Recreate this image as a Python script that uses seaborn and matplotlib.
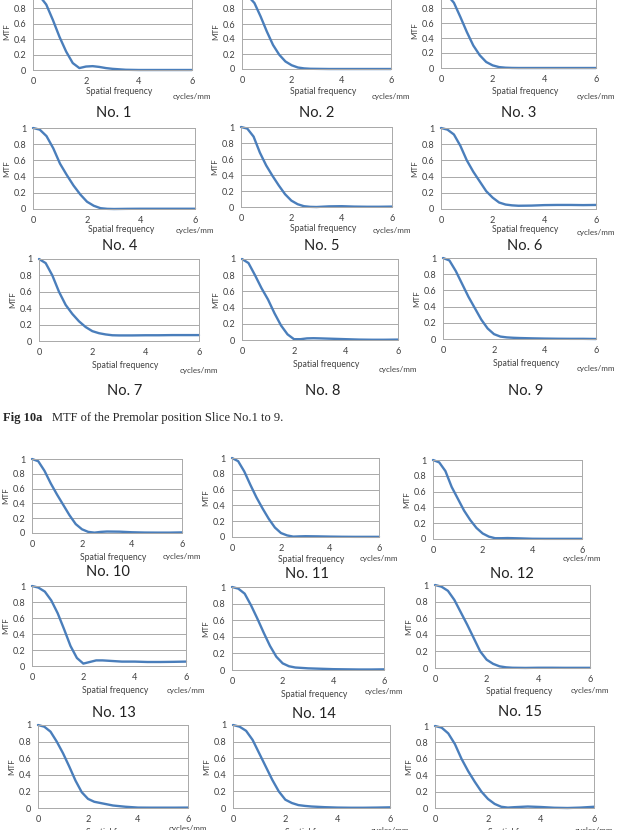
import matplotlib
matplotlib.use('Agg')
import matplotlib.pyplot as plt
import seaborn as sns
import numpy as np
from matplotlib.ticker import FuncFormatter

"""
MTF curves read off the figure (Premolar slices No.1 - No.18)
"""
freq = [0, 0.25, 0.5, 0.75, 1.0, 1.25, 1.5, 1.75, 2.0, 2.25, 2.5, 2.75,
        3.0, 3.5, 4.0, 4.5, 5.0, 5.5, 6.0]

mtf_01 = [1, 0.96, 0.85, 0.65, 0.43, 0.24, 0.09, 0.025, 0.045, 0.05, 0.04,
          0.025, 0.015, 0.003, 0, 0, 0, 0, 0]
mtf_02 = [1, 0.97, 0.88, 0.70, 0.50, 0.32, 0.19, 0.10, 0.05, 0.02, 0.008,
          0.003, 0.002, 0, 0, 0, 0, 0, 0]
mtf_03 = [1, 0.97, 0.87, 0.68, 0.48, 0.30, 0.17, 0.08, 0.035, 0.012, 0.004,
          0.001, 0, 0, 0, 0, 0, 0, 0]
mtf_04 = [1, 0.98, 0.90, 0.75, 0.56, 0.42, 0.29, 0.18, 0.09, 0.04, 0.01,
          0.002, 0, 0.002, 0.003, 0.003, 0.003, 0.003, 0.003]
mtf_05 = [1, 0.98, 0.88, 0.68, 0.52, 0.39, 0.27, 0.16, 0.08, 0.035, 0.01,
          0.002, 0, 0.008, 0.01, 0.005, 0.003, 0.003, 0.005]
mtf_06 = [1, 0.98, 0.92, 0.78, 0.60, 0.46, 0.34, 0.22, 0.14, 0.08, 0.055,
          0.045, 0.04, 0.042, 0.048, 0.05, 0.05, 0.048, 0.05]
mtf_07 = [1, 0.95, 0.80, 0.60, 0.44, 0.33, 0.24, 0.17, 0.12, 0.095, 0.08,
          0.07, 0.068, 0.068, 0.07, 0.07, 0.072, 0.072, 0.072]
mtf_08 = [1, 0.95, 0.80, 0.64, 0.50, 0.33, 0.18, 0.07, 0.01, 0.01, 0.02,
          0.022, 0.02, 0.015, 0.01, 0.005, 0.003, 0.003, 0.005]
mtf_09 = [1, 0.97, 0.84, 0.68, 0.52, 0.38, 0.24, 0.13, 0.06, 0.03, 0.02,
          0.015, 0.012, 0.008, 0.005, 0.003, 0.002, 0.002, 0]
mtf_10 = [1, 0.97, 0.84, 0.67, 0.52, 0.38, 0.24, 0.12, 0.05, 0.015, 0.005,
          0.015, 0.02, 0.018, 0.01, 0.006, 0.005, 0.005, 0.008]
mtf_11 = [1, 0.96, 0.83, 0.66, 0.50, 0.36, 0.23, 0.12, 0.05, 0.02, 0.005,
          0.008, 0.01, 0.008, 0.005, 0.003, 0.002, 0.002, 0.002]
mtf_12 = [1, 0.97, 0.86, 0.66, 0.51, 0.36, 0.24, 0.14, 0.07, 0.03, 0.01,
          0.01, 0.012, 0.008, 0.003, 0.002, 0.002, 0.002, 0.002]
mtf_13 = [1, 0.98, 0.93, 0.82, 0.66, 0.46, 0.25, 0.10, 0.03, 0.05, 0.07,
          0.07, 0.065, 0.055, 0.055, 0.05, 0.05, 0.052, 0.055]
mtf_14 = [1, 0.98, 0.92, 0.78, 0.62, 0.45, 0.29, 0.16, 0.08, 0.045, 0.03,
          0.025, 0.02, 0.015, 0.01, 0.008, 0.006, 0.006, 0.008]
mtf_15 = [1, 0.98, 0.93, 0.82, 0.67, 0.52, 0.36, 0.20, 0.10, 0.05, 0.02,
          0.008, 0.003, 0.001, 0.003, 0.003, 0.002, 0.002, 0.002]
mtf_16 = [1, 0.98, 0.92, 0.80, 0.66, 0.50, 0.33, 0.19, 0.11, 0.075, 0.06,
          0.045, 0.03, 0.015, 0.005, 0.004, 0.004, 0.004, 0.005]
mtf_17 = [1, 0.98, 0.93, 0.82, 0.66, 0.50, 0.34, 0.20, 0.10, 0.06, 0.035,
          0.025, 0.018, 0.01, 0.005, 0.003, 0.003, 0.005, 0.008]
mtf_18 = [1, 0.98, 0.91, 0.78, 0.60, 0.45, 0.32, 0.20, 0.11, 0.05, 0.015,
          0.005, 0.01, 0.018, 0.012, 0.003, 0.0, 0.005, 0.015]

curves = [mtf_01, mtf_02, mtf_03, mtf_04, mtf_05, mtf_06, mtf_07, mtf_08,
          mtf_09, mtf_10, mtf_11, mtf_12, mtf_13, mtf_14, mtf_15, mtf_16,
          mtf_17, mtf_18]
slice_names = ['No. %d' % i for i in range(1, 19)]

x_ticks = [0, 2, 4, 6]
y_ticks = [0, 0.2, 0.4, 0.6, 0.8, 1]
x_label = 'Spatial frequency'
x_unit = 'cycles/mm'
y_label = 'MTF'
caption_bold = 'Fig 10a'
caption_text = 'MTF of the Premolar position Slice No.1 to 9.'

# panel boxes in pixels: left, top, right, bottom
# plus offsets (px below axes) for "Spatial frequency" and "cycles/mm",
# and the centre of the "No. n" label
panels = [
    ((33, -7, 192, 70), 21, 26, (114, 113)),
    ((242, -6, 391, 69), 22, 27, (317, 113)),
    ((441, -7, 596, 68), 23, 28, (519, 113)),
    ((33, 128, 195, 209), 21, 21, (120, 246)),
    ((241, 127, 392, 207), 21, 23, (322, 246)),
    ((441, 128, 596, 209), 21, 24, (525, 246)),
    ((39, 259, 199, 341), 24, 29, (125, 391)),
    ((242, 259, 398, 340), 24, 29, (323, 391)),
    ((443, 258, 596, 339), 24, 29, (526, 391)),
    ((32, 459, 182, 533), 24, 24, (108, 572)),
    ((232, 458, 379, 537), 22, 21, (307, 574)),
    ((433, 460, 582, 539), None, 20, (512, 574)),
    ((32, 586, 186, 666), 24, 24, (114, 713)),
    ((232, 587, 384, 670), 24, 21, (314, 714)),
    ((435, 585, 590, 668), 23, 23, (520, 712)),
    ((38, 725, 188, 808), 24, 20, None),
    ((233, 725, 390, 808), 24, 22, None),
    ((435, 726, 594, 808), 24, 22, None),
]

W, H = 621, 830
sns.set_theme(style='white')
plt.rcParams['font.family'] = ['Lato', 'DejaVu Sans']

line_col = '#4a7ebb'
grid_col = '#a9a9a9'
text_col = '#404040'

fig = plt.figure(figsize=(W / 100, H / 100), dpi=100)
fig.patch.set_facecolor('white')

for (box, sf_dy, cyc_dy, title_pos), mtf, name in zip(panels, curves, slice_names):
    L, T, R, B = box
    ax = fig.add_axes([L / W, 1 - B / H, (R - L) / W, (B - T) / H])
    sns.lineplot(x=freq, y=mtf, ax=ax, color=line_col, linewidth=1.7,
                 clip_on=False)
    ax.set_xlim(0, 6)
    ax.set_ylim(0, 1)
    ax.set_xticks(x_ticks)
    ax.set_yticks(y_ticks)
    ax.yaxis.set_major_formatter(FuncFormatter(lambda v, p: '%g' % v))
    ax.grid(axis='y', color=grid_col, linewidth=0.7)
    ax.set_axisbelow(True)
    for s in ax.spines.values():
        s.set_color(grid_col)
        s.set_linewidth(0.7)
    ax.tick_params(axis='both', direction='out', length=2.5, width=0.6,
                   color=grid_col, labelsize=6.6, labelcolor=text_col, pad=2.5)
    ax.set_xlabel('')
    ax.set_ylabel(y_label, fontsize=5.8, color=text_col)
    ax.yaxis.set_label_coords(-23.0 / (R - L), 0.5)

    if sf_dy is not None:
        ax.annotate(x_label, xy=(3.25, 0), xycoords=('data', 'axes fraction'),
                    xytext=(0, -sf_dy * 0.72), textcoords='offset points',
                    ha='center', va='center', fontsize=6.2, color=text_col,
                    annotation_clip=False)
    ax.annotate(x_unit, xy=(6.0, 0), xycoords=('data', 'axes fraction'),
                xytext=(0, -cyc_dy * 0.72), textcoords='offset points',
                ha='center', va='center', fontsize=5.8, color=text_col,
                annotation_clip=False)
    if title_pos is not None:
        fig.text(title_pos[0] / W, 1 - title_pos[1] / H, name,
                 ha='center', va='center', fontsize=10.5, color='#222222')

fig.text(3 / W, 1 - 418 / H, caption_bold, ha='left', va='center',
         fontsize=9, fontweight='bold', family='Liberation Serif')
fig.text(52 / W, 1 - 418 / H, caption_text, ha='left', va='center',
         fontsize=9, family='Liberation Serif')

fig.savefig('out.png', dpi=100)
